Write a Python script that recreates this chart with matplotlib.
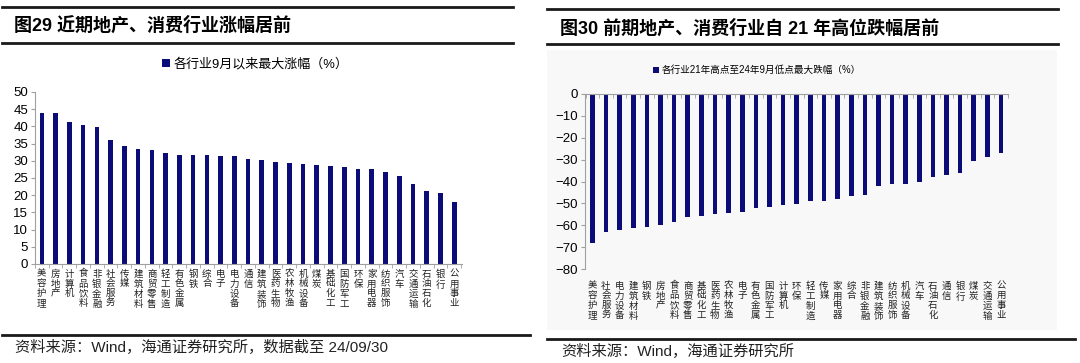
import matplotlib

matplotlib.use("Agg")

import matplotlib.pyplot as plt
import numpy as np
from matplotlib.lines import Line2D
from matplotlib.patches import Rectangle

plt.rcParams["font.family"] = ["Liberation Sans", "Noto Sans CJK SC"]

# left panel: max gain since September (%)
gain_names = [
    "美容护理", "房地产", "计算机", "食品饮料", "非银金融", "社会服务", "传媒",
    "建筑材料", "商贸零售", "轻工制造", "有色金属", "钢铁", "综合", "电子",
    "电力设备", "通信", "建筑装饰", "医药生物", "农林牧渔", "机械设备", "煤炭",
    "基础化工", "国防军工", "环保", "家用电器", "纺织服饰", "汽车", "交通运输",
    "石油石化", "银行", "公用事业",
]
gain_vals = [
    43.8, 43.8, 41.3, 40.4, 39.8, 36.1, 34.2, 33.3, 33.0, 32.3, 31.7, 31.6,
    31.6, 31.4, 31.3, 30.6, 30.3, 29.7, 29.5, 29.2, 28.9, 28.6, 28.2, 27.7,
    27.5, 26.7, 25.6, 23.2, 21.3, 20.6, 18.0,
]

# right panel: max drawdown from 2021 high to Sep 2024 low (%)
drop_names = [
    "美容护理", "社会服务", "电力设备", "建筑材料", "钢铁", "房地产", "食品饮料",
    "商贸零售", "基础化工", "医药生物", "农林牧渔", "电子", "有色金属", "国防军工",
    "计算机", "环保", "轻工制造", "传媒", "家用电器", "综合", "非银金融",
    "建筑装饰", "纺织服饰", "机械设备", "汽车", "石油石化", "通信", "银行",
    "煤炭", "交通运输", "公用事业",
]
drop_vals = [
    -68.3, -63.2, -62.3, -61.1, -60.6, -59.7, -58.4, -56.4, -55.8, -54.9,
    -54.6, -54.1, -52.0, -51.8, -50.6, -50.1, -48.9, -48.9, -48.0, -46.5,
    -46.3, -42.1, -41.1, -41.1, -40.2, -37.8, -36.9, -36.1, -30.8, -28.8,
    -27.1,
]

W, H = 1080, 363
BAR = "#0c0c78"
GREY = "#a0a0a0"


def fx(x):
    return x / W


def fy(y):
    return 1 - y / H


def rect(l, t, r, b):
    return (fx(l), fy(b), (r - l) / W, (b - t) / H)


def hline(fig, y, x0, x1, lw=2.0):
    fig.add_artist(Line2D([fx(x0), fx(x1)], [fy(y), fy(y)],
                          transform=fig.transFigure, color="#1a1a1a", lw=lw))


fig = plt.figure(figsize=(W / 100, H / 100), dpi=100)
fig.set_facecolor("white")

# light grey backdrop behind the right chart
fig.add_artist(Rectangle((fx(547), fy(330)), (1057 - 547) / W, (330 - 50) / H,
                         transform=fig.transFigure, facecolor="#f8f8f8",
                         edgecolor="none", zorder=0))

# frame lines and titles
hline(fig, 7, 2, 513)
hline(fig, 43, 2, 513)
hline(fig, 335, 2, 530)
hline(fig, 9, 547, 1058)
hline(fig, 44, 547, 1058)
hline(fig, 339, 547, 1075)

fig.text(fx(14), fy(26), "图29 近期地产、消费行业涨幅居前", fontsize=13,
         fontweight="bold", va="center", ha="left")
fig.text(fx(560), fy(29), "图30 前期地产、消费行业自 21 年高位跌幅居前", fontsize=13,
         fontweight="bold", va="center", ha="left")
fig.text(fx(15), fy(347), "资料来源：Wind，海通证券研究所，数据截至 24/09/30",
         fontsize=11, va="center", ha="left", color="#222222")
fig.text(fx(561), fy(351), "资料来源：Wind，海通证券研究所",
         fontsize=11, va="center", ha="left", color="#222222")


def style(ax, names, label_pad):
    x = np.arange(len(names))
    ax.set_xticks(x, ["\n".join(n) for n in names], fontsize=6.8,
                  linespacing=1.12, color="#222222")
    ax.set_xticks(np.arange(-0.5, len(names), 1.0), minor=True)
    ax.tick_params(axis="x", which="major", length=0, pad=label_pad)
    ax.tick_params(axis="y", labelsize=9.5, length=3, color=GREY, pad=2)
    ax.set_facecolor("none")
    ax.spines["right"].set_visible(False)
    for s in ax.spines.values():
        s.set_color(GREY)
        s.set_linewidth(0.8)


# ---- left chart
ax1 = fig.add_axes(rect(35, 92, 462, 264))
x1 = np.arange(len(gain_names))
ax1.bar(x1, gain_vals, width=0.34, color=BAR, label="各行业9月以来最大涨幅（%）")
ax1.set_ylim(0, 50)
ax1.set_yticks(np.arange(0, 51, 5))
ax1.set_xlim(-0.44, len(gain_names) - 1 + 0.56)
style(ax1, gain_names, 4)
ax1.spines["top"].set_visible(False)
ax1.tick_params(axis="x", which="minor", length=3, color=GREY, direction="out")
ax1.legend(loc="center", bbox_to_anchor=(fx(255), fy(64)),
           bbox_transform=fig.transFigure, frameon=False, fontsize=9.4,
           handlelength=0.6, handleheight=0.6, handletextpad=0.3)

# ---- right chart
ax2 = fig.add_axes(rect(585, 94, 1008, 269))
x2 = np.arange(len(drop_names))
ax2.bar(x2, drop_vals, width=0.34, color=BAR,
        label="各行业21年高点至24年9月低点最大跌幅（%）")
ax2.set_ylim(-80, 0)
ax2.set_yticks(np.arange(-80, 1, 10))
ax2.set_xlim(-0.54, len(drop_names) - 1 + 0.51)
style(ax2, drop_names, 9)
ax2.spines["bottom"].set_visible(False)
ax2.tick_params(axis="x", which="minor", top=True, bottom=False, length=3,
                color=GREY, direction="in")
ax2.legend(loc="center", bbox_to_anchor=(fx(757), fy(70)),
           bbox_transform=fig.transFigure, frameon=False, fontsize=6.9,
           handlelength=0.6, handleheight=0.6, handletextpad=0.3)

fig.savefig("out.png", dpi=100, facecolor=fig.get_facecolor())
